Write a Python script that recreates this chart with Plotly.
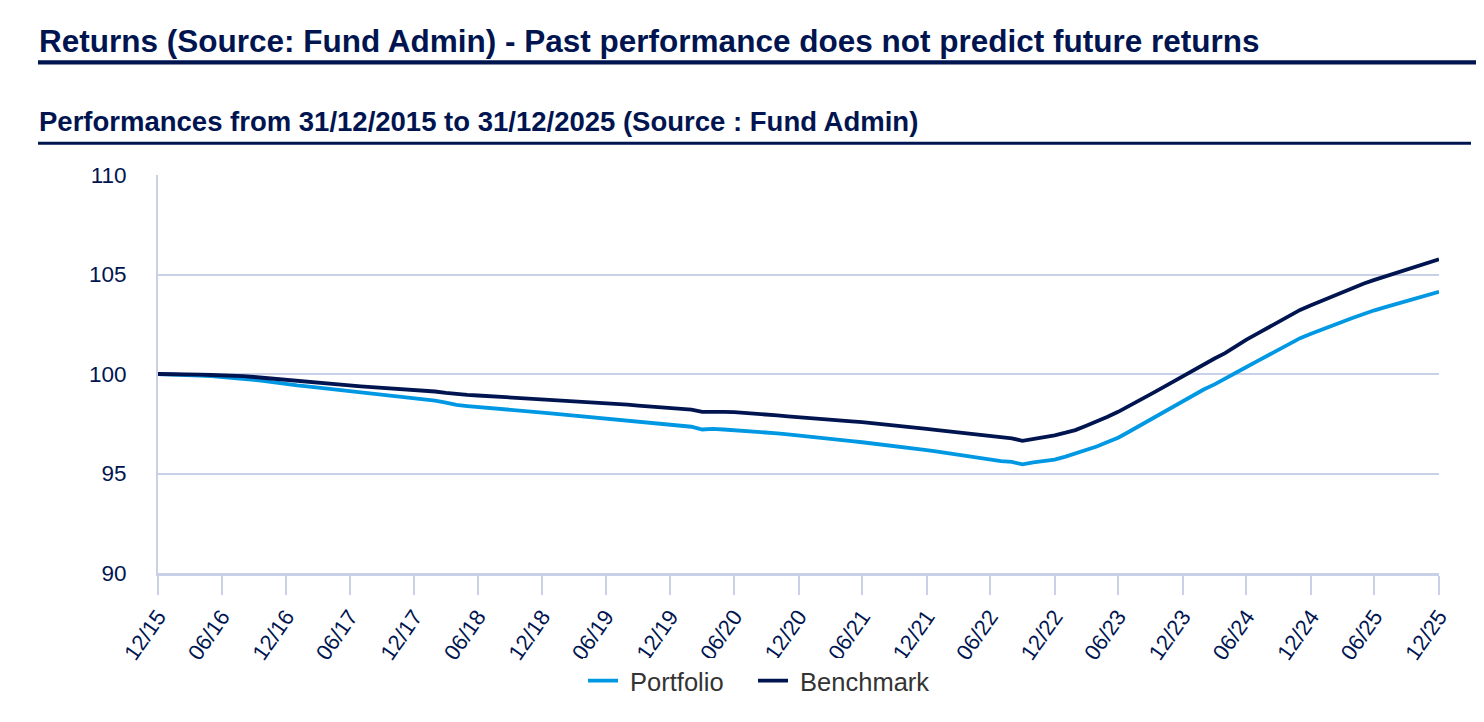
import pandas as pd
import plotly.graph_objects as go

# ---- data (month-end values) ----
dates = pd.date_range("2015-12-31", periods=121, freq="ME")

portfolio = [
    100.00, 99.99, 99.97, 99.95, 99.92, 99.89, 99.85, 99.81, 99.77, 99.71,
    99.64, 99.56, 99.47, 99.43, 99.38, 99.32, 99.26, 99.19, 99.12, 99.07,
    99.02, 98.96, 98.90, 98.85, 98.80, 98.74, 98.66, 98.56, 98.45, 98.39,
    98.35, 98.31, 98.26, 98.21, 98.16, 98.11, 98.06, 98.01, 97.96, 97.91,
    97.86, 97.81, 97.76, 97.71, 97.66, 97.61, 97.56, 97.50, 97.45, 97.40,
    97.35, 97.21, 97.24, 97.21, 97.18, 97.14, 97.10, 97.06, 97.02, 96.97,
    96.92, 96.87, 96.81, 96.75, 96.69, 96.63, 96.57, 96.51, 96.45, 96.39,
    96.32, 96.26, 96.18, 96.10, 96.02, 95.94, 95.86, 95.77, 95.68, 95.62,
    95.58, 95.46, 95.56, 95.62, 95.70, 95.85, 96.00, 96.18, 96.36, 96.58,
    96.80, 97.10, 97.41, 97.72, 98.05, 98.35, 98.65, 98.95, 99.22, 99.48,
    99.75, 100.05, 100.35, 100.65, 100.95, 101.22, 101.52, 101.80, 102.02, 102.24,
    102.45, 102.63, 102.83, 103.03, 103.20, 103.36, 103.52, 103.67, 103.82, 103.98,
    104.13,
]

benchmark = [
    100.00, 100.00, 99.99, 99.98, 99.97, 99.95, 99.94, 99.92, 99.89, 99.85,
    99.80, 99.74, 99.68, 99.63, 99.59, 99.55, 99.50, 99.45, 99.41, 99.38,
    99.34, 99.31, 99.27, 99.24, 99.20, 99.16, 99.12, 99.05, 98.99, 98.95,
    98.92, 98.89, 98.86, 98.83, 98.80, 98.77, 98.74, 98.71, 98.68, 98.64,
    98.61, 98.58, 98.54, 98.50, 98.46, 98.41, 98.37, 98.33, 98.28, 98.25,
    98.21, 98.10, 98.12, 98.10, 98.08, 98.05, 98.01, 97.97, 97.92, 97.87,
    97.82, 97.78, 97.74, 97.70, 97.66, 97.62, 97.58, 97.53, 97.48, 97.43,
    97.38, 97.32, 97.24, 97.18, 97.12, 97.06, 97.00, 96.93, 96.86, 96.80,
    96.77, 96.64, 96.72, 96.80, 96.92, 97.05, 97.18, 97.40, 97.60, 97.85,
    98.10, 98.38, 98.68, 98.98, 99.28, 99.58, 99.90, 100.20, 100.50, 100.78,
    101.05, 101.40, 101.73, 102.03, 102.33, 102.63, 102.93, 103.22, 103.45, 103.67,
    103.90, 104.12, 104.35, 104.55, 104.73, 104.91, 105.09, 105.27, 105.45, 105.60,
    105.76,
]

tick_dates = pd.date_range("2015-12-31", periods=21, freq="6ME")
tick_labels = [d.strftime("%m/%y") for d in tick_dates]

series_names = ["Portfolio", "Benchmark"]
title_text = "Returns (Source: Fund Admin) - Past performance does not predict future returns"
subtitle_text = "Performances from 31/12/2015 to 31/12/2025 (Source : Fund Admin)"

# ---- styling ----
NAVY = "#001550"
LIGHT = "#0098E2"
GRID = "#C9D1E8"
OFF = 8                      # page body margin
W, H = 1484 - OFF, 722 - OFF
L, T = 158 - OFF, 175 - OFF
R = W - (1439 - OFF)
B = H - (573 - OFF)
PW, PH = W - L - R, H - T - B


def px(x):
    # reference-page pixel x -> paper coordinate
    return (x - OFF - L) / PW


def py(y):
    # reference-page pixel y -> paper coordinate
    return (H - B - (y - OFF)) / PH


fig = go.Figure()
fig.add_trace(go.Scatter(x=dates, y=portfolio, name="\u00a0" + series_names[0], mode="lines",
                         line=dict(color=LIGHT, width=3.8), legendwidth=125))
fig.add_trace(go.Scatter(x=dates, y=benchmark, name="\u00a0" + series_names[1], mode="lines",
                         line=dict(color=NAVY, width=3.8)))

fig.update_layout(
    width=W, height=H,
    margin=dict(l=L, r=R, t=T, b=B),
    paper_bgcolor="white", plot_bgcolor="white",
    font=dict(family="Liberation Sans, Arial, sans-serif", color=NAVY),
    showlegend=True,
    legend=dict(orientation="h", x=px(759), xanchor="center", y=py(681), yanchor="middle",
                font=dict(size=25.5, color="#333333"), itemwidth=30, tracegroupgap=0),
    annotations=[
        dict(text="<b>" + title_text + "</b>", xref="paper", yref="paper",
             x=px(37), y=py(41), xanchor="left", yanchor="middle", showarrow=False,
             font=dict(size=31.5, color=NAVY)),
        dict(text="<b>" + subtitle_text + "</b>", xref="paper", yref="paper",
             x=px(37), y=py(122), xanchor="left", yanchor="middle", showarrow=False,
             font=dict(size=27.5, color=NAVY)),
    ],
    shapes=[
        dict(type="line", xref="paper", yref="paper", x0=px(38), x1=px(1484),
             y0=py(62.3), y1=py(62.3), line=dict(color=NAVY, width=4.3)),
        dict(type="line", xref="paper", yref="paper", x0=px(38), x1=px(1471),
             y0=py(143.3), y1=py(143.3), line=dict(color=NAVY, width=3)),
    ],
)

fig.update_xaxes(
    range=[dates[0], dates[-1]],
    tickmode="array", tickvals=tick_dates, ticktext=tick_labels,
    tickangle=-55, tickfont=dict(size=22, color=NAVY),
    ticks="outside", ticklen=19, tickwidth=2, tickcolor=GRID,
    showline=True, linecolor=GRID, linewidth=3,
    showgrid=False, zeroline=False,
)
fig.update_yaxes(
    range=[90, 110], tickvals=[90, 95, 100, 105, 110],
    tickfont=dict(size=22.5, color=NAVY),
    ticks="", ticklabelstandoff=25,
    showline=True, linecolor=GRID, linewidth=2,
    showgrid=True, gridcolor=GRID, gridwidth=2,
    zeroline=False,
)

fig.write_html("out.html")
